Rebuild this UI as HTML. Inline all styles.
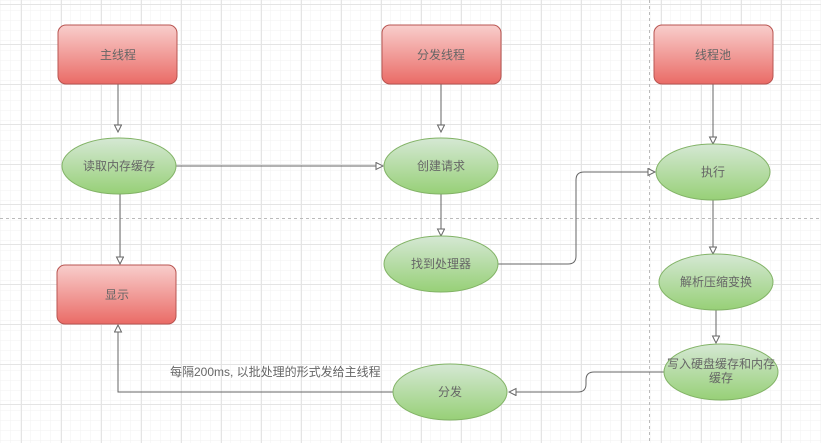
<!DOCTYPE html>
<html><head><meta charset="utf-8"><style>
html,body{margin:0;padding:0;background:#fff}
svg{display:block}
text{font-family:"Liberation Sans","Noto Sans CJK SC",sans-serif;font-size:12px;fill:#666}
</style></head><body>
<svg width="821" height="443" xmlns="http://www.w3.org/2000/svg">
<defs>
<pattern id="g1" width="10" height="10" patternUnits="userSpaceOnUse" x="1" y="1"><path d="M10 0V10M0 10H10" stroke="#f2f2f2" stroke-width="1" fill="none"/></pattern>
<pattern id="g2" width="40" height="40" patternUnits="userSpaceOnUse" x="21" y="4"><path d="M0.5 0V40M0 0.5H40" stroke="#e4e4e4" stroke-width="1" fill="none"/></pattern>
<linearGradient id="r" x1="0" y1="0" x2="0" y2="1"><stop offset="0" stop-color="#f8cecc"/><stop offset="1" stop-color="#ea6b66"/></linearGradient>
<linearGradient id="gr" x1="0" y1="0" x2="0" y2="1"><stop offset="0" stop-color="#d5e8d4"/><stop offset="1" stop-color="#97d077"/></linearGradient>
<marker id="a" markerWidth="10" markerHeight="10" refX="8" refY="4" orient="auto" markerUnits="userSpaceOnUse"><path d="M1 0.5L8 4L1 7.5Z" fill="#fff" stroke="#666"/></marker>
</defs>
<rect width="821" height="443" fill="url(#g1)"/>
<rect width="821" height="443" fill="url(#g2)"/>
<line x1="0" y1="218.5" x2="821" y2="218.5" stroke="#bbb" stroke-dasharray="3,3"/>
<line x1="649.5" y1="0" x2="649.5" y2="443" stroke="#bbb" stroke-dasharray="3,3"/>
<g stroke="#666" fill="none" stroke-width="1">
<path d="M118 84V132" marker-end="url(#a)"/>
<path d="M176 166H383" marker-end="url(#a)"/>
<path d="M120 194V264" marker-end="url(#a)"/>
<path d="M441 84V132" marker-end="url(#a)"/>
<path d="M441 194V236" marker-end="url(#a)"/>
<path d="M498 264H568Q576 264 576 256V180Q576 172 584 172H655" marker-end="url(#a)"/>
<path d="M713 84V144" marker-end="url(#a)"/>
<path d="M713 200V254" marker-end="url(#a)"/>
<path d="M716 310V343" marker-end="url(#a)"/>
<path d="M664 372H594Q586 372 586 380V384Q586 392 578 392H509" marker-end="url(#a)"/>
<path d="M393 392H118V325" marker-end="url(#a)"/>
</g>
<g stroke="#b85450" fill="url(#r)">
<rect x="58" y="25" width="119" height="59" rx="8"/>
<rect x="382" y="25" width="119" height="59" rx="8"/>
<rect x="654" y="25" width="119" height="59" rx="8"/>
<rect x="57" y="265" width="119" height="59" rx="8"/>
</g>
<g stroke="#82b366" fill="url(#gr)">
<ellipse cx="119" cy="166" rx="57" ry="28"/>
<ellipse cx="441" cy="166" rx="57" ry="28"/>
<ellipse cx="713" cy="172" rx="57" ry="28"/>
<ellipse cx="441" cy="264" rx="57" ry="28"/>
<ellipse cx="716" cy="282" rx="57" ry="28"/>
<ellipse cx="721" cy="372" rx="57" ry="28"/>
<ellipse cx="450" cy="392" rx="57" ry="28"/>
</g>
<g text-anchor="middle">
<text x="118" y="59">主线程</text>
<text x="441" y="59">分发线程</text>
<text x="713" y="59">线程池</text>
<text x="117" y="299">显示</text>
<text x="119" y="170">读取内存缓存</text>
<text x="441" y="170">创建请求</text>
<text x="713" y="176">执行</text>
<text x="441" y="268">找到处理器</text>
<text x="716" y="286">解析压缩变换</text>
<text x="721" y="368">写入硬盘缓存和内存</text>
<text x="721" y="382">缓存</text>
<text x="450" y="396">分发</text>
</g>
<text x="170" y="376">每隔200ms, 以批处理的形式发给主线程</text>
</svg>
</body></html>
